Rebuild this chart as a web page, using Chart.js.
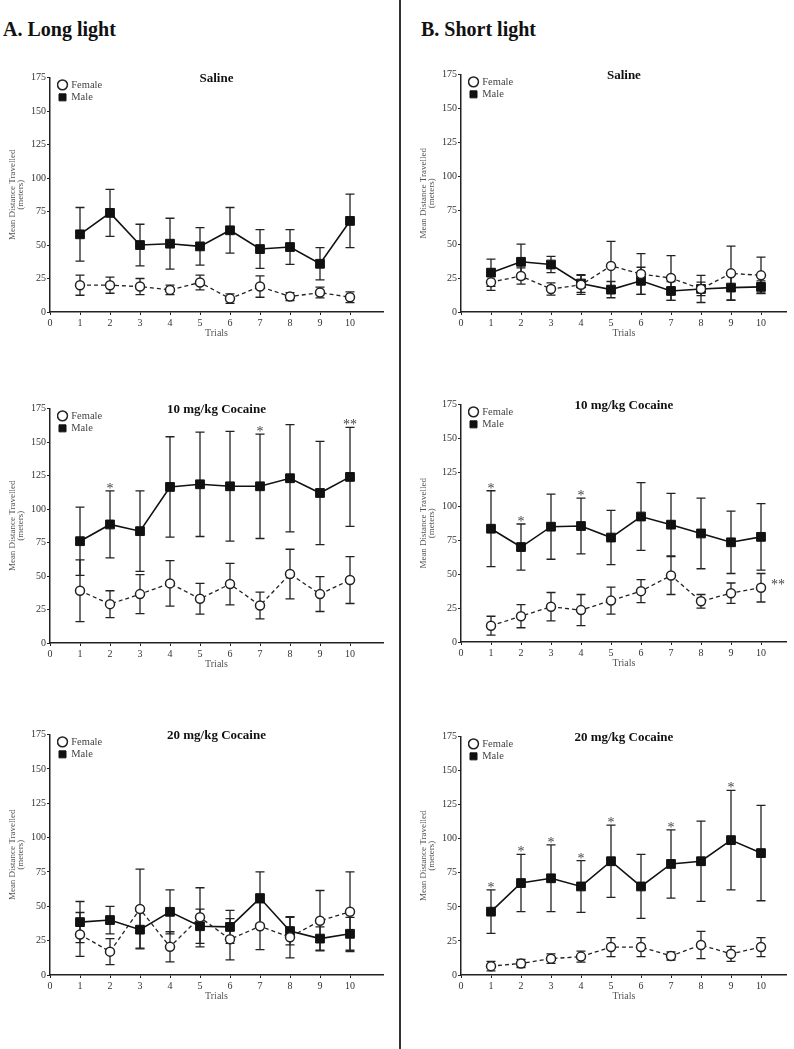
<!DOCTYPE html>
<html>
<head>
<meta charset="utf-8">
<script src="https://cdn.jsdelivr.net/npm/chart.js@4.4.1/dist/chart.umd.min.js"></script>
<style>
  body { margin: 0; background: #fff; }
  #page { position: relative; width: 794px; height: 1049px; overflow: hidden; font-family: "Liberation Serif", serif; }
  .head { position: absolute; top: 18px; font-weight: bold; font-size: 20px; color: #111; }
  #divider { position: absolute; left: 399px; top: 0; width: 1.5px; height: 1049px; background: #333; }
  .panel { position: absolute; }
</style>
</head>
<body>
<div id="page">
  <div class="head" style="left:3px">A. Long light</div>
  <div class="head" style="left:421px">B. Short light</div>
  <div id="divider"></div>
</div>
<script>
// x categories and axis ticks
const trials = [1, 2, 3, 4, 5, 6, 7, 8, 9, 10];
const xTicks = [0, 1, 2, 3, 4, 5, 6, 7, 8, 9, 10];
const yTicks = [0, 25, 50, 75, 100, 125, 150, 175];
const seriesNames = ["Female", "Male"];

// A. Long light
const longSalineFemale    = [20, 20, 19, 16.5, 22, 10, 19, 11.5, 14.5, 11];
const longSalineFemaleErr = [7.5, 6, 6, 3.5, 5.5, 3.5, 8, 3, 4, 4];
const longSalineMale      = [58, 74, 50, 51, 49, 61, 47, 48.5, 36, 68];
const longSalineMaleErr   = [20, 17.5, 15.5, 19, 14, 17, 14.5, 13, 12, 20];

const long10Female    = [39, 29, 36.5, 44.5, 33, 44, 28, 51.5, 36.5, 47];
const long10FemaleErr = [23, 10, 14.5, 17, 11.5, 15.5, 10, 18.5, 13, 17.5];
const long10Male      = [76, 88.5, 83.5, 116.5, 118.5, 117, 117, 123, 112, 124];
const long10MaleErr   = [25.5, 25, 30, 37.5, 39, 41, 39, 40, 38.5, 37];
const long10Stars     = ["", "*", "", "", "", "", "*", "", "", "**"];

const long20Female    = [29.5, 17, 48, 20.5, 42, 26, 35.5, 27.5, 39.5, 46];
const long20FemaleErr = [16, 9.5, 29, 11, 21.5, 15, 17, 15, 22, 29];
const long20Male      = [38.5, 40, 33, 46, 35.5, 35, 56, 32, 26.5, 30];
const long20MaleErr   = [15, 10, 13.5, 16, 12.5, 12, 19, 10, 8.5, 12];

// B. Short light
const shortSalineFemale    = [22, 26.5, 17, 20, 34, 28, 25, 17, 28.5, 27];
const shortSalineFemaleErr = [6, 6, 4.5, 7, 18, 15, 16.5, 5, 20, 13.5];
const shortSalineMale      = [29, 37, 35, 21, 16.5, 23, 15.5, 17, 18, 18.5];
const shortSalineMaleErr   = [10, 13, 6, 6.5, 6, 10, 7, 10, 9, 4.5];

const short10Female    = [12, 19, 26, 23.5, 30.5, 37.5, 49, 30, 36, 40];
const short10FemaleErr = [7, 8.5, 10.5, 11.5, 10, 8.5, 14, 5, 7.5, 10.5];
const short10Male      = [83.5, 70, 85, 85.5, 77, 92.5, 86.5, 80, 73.5, 77.5];
const short10MaleErr   = [28, 17, 24, 20.5, 20, 25, 23, 26, 23, 24.5];
const short10Stars       = ["*", "*", "", "*", "", "", "", "", "", ""];
const short10FemaleStars = ["", "", "", "", "", "", "", "", "", "**"];

const short20Female    = [6.5, 8.5, 12, 13.5, 20.5, 20.5, 14, 22, 15.5, 20.5];
const short20FemaleErr = [3.5, 3, 3.5, 4, 7, 7, 3, 10, 5.5, 7];
const short20Male      = [46.5, 67.5, 71, 65, 83.5, 65, 81.5, 83.5, 99, 89.5];
const short20MaleErr   = [16, 21, 24.5, 19, 26.5, 23.5, 25, 29.5, 36.5, 35];
const short20Stars     = ["*", "*", "*", "*", "*", "", "*", "", "*", ""];

Chart.defaults.font.family = "'Liberation Serif', serif";

// error bars drawn through the chart's own scales
const errorBars = {
  id: "errorBars",
  beforeDatasetsDraw(chart) {
    const { ctx, scales: { x, y } } = chart;
    ctx.save();
    ctx.strokeStyle = "#222";
    ctx.lineWidth = 1.3;
    chart.data.datasets.forEach(ds => {
      ds.data.forEach((pt, i) => {
        const px = x.getPixelForValue(pt.x);
        const top = y.getPixelForValue(pt.y + ds.err[i]);
        const bot = y.getPixelForValue(pt.y - ds.err[i]);
        ctx.beginPath();
        ctx.moveTo(px, top); ctx.lineTo(px, bot);
        ctx.moveTo(px - 4.5, top); ctx.lineTo(px + 4.5, top);
        ctx.moveTo(px - 4.5, bot); ctx.lineTo(px + 4.5, bot);
        ctx.stroke();
      });
    });
    ctx.restore();
  }
};

// significance asterisks
const starMarks = {
  id: "starMarks",
  afterDatasetsDraw(chart) {
    const { ctx, scales: { x, y } } = chart;
    ctx.save();
    ctx.fillStyle = "#444";
    ctx.font = "14px 'Liberation Serif', serif";
    ctx.textBaseline = "alphabetic";
    chart.data.datasets.forEach(ds => {
      if (!ds.stars) return;
      ds.data.forEach((pt, i) => {
        const s = ds.stars[i];
        if (!s) return;
        const px = x.getPixelForValue(pt.x);
        if (ds.starSide === "right") {
          ctx.textAlign = "left";
          ctx.fillText(s, px + 10, y.getPixelForValue(pt.y) + 1);
        } else {
          ctx.textAlign = "center";
          ctx.fillText(s, px, y.getPixelForValue(pt.y + ds.err[i]) + 2);
        }
      });
    });
    ctx.restore();
  }
};

// keep the legend inside the plot, top-left corner
const legendInPlot = {
  id: "legendInPlot",
  afterLayout(chart) {
    const lg = chart.legend;
    if (!lg) return;
    const h = lg.height;
    lg.top = chart.chartArea.top;
    lg.bottom = lg.top + h;
    lg.left = chart.chartArea.left + 7;
  }
};

const panels = [
  { title: "Saline", f: longSalineFemale, fe: longSalineFemaleErr, m: longSalineMale, me: longSalineMaleErr,
    left: 0, top: 50, w: 398, h: 300, axisW: 50, padR: 15, xMax: 11.1, titleX: 9.5 },
  { title: "10 mg/kg Cocaine", f: long10Female, fe: long10FemaleErr, m: long10Male, me: long10MaleErr, ms: long10Stars,
    left: 0, top: 381, w: 398, h: 300, axisW: 50, padR: 15, xMax: 11.1, titleX: 9.5 },
  { title: "20 mg/kg Cocaine", f: long20Female, fe: long20FemaleErr, m: long20Male, me: long20MaleErr,
    left: 0, top: 707, w: 398, h: 306, axisW: 50, padR: 15, xMax: 11.1, titleX: 9.5 },
  { title: "Saline", f: shortSalineFemale, fe: shortSalineFemaleErr, m: shortSalineMale, me: shortSalineMaleErr,
    left: 402, top: 47, w: 392, h: 303, axisW: 59, padR: 4, xMax: 10.86, titleX: 18.5 },
  { title: "10 mg/kg Cocaine", f: short10Female, fe: short10FemaleErr, m: short10Male, me: short10MaleErr,
    ms: short10Stars, fs: short10FemaleStars,
    left: 402, top: 377, w: 392, h: 303, axisW: 59, padR: 4, xMax: 10.86, titleX: 18.5 },
  { title: "20 mg/kg Cocaine", f: short20Female, fe: short20FemaleErr, m: short20Male, me: short20MaleErr, ms: short20Stars,
    left: 402, top: 709, w: 392, h: 304, axisW: 59, padR: 4, xMax: 10.86, titleX: 18.5 }
];

const tickFont = { family: "'Liberation Serif', serif", size: 10 };
const axisTitleFont = { family: "'Liberation Serif', serif", size: 9, lineHeight: 0.8 };

panels.forEach(p => {
  const box = document.createElement("div");
  box.className = "panel";
  box.style.left = p.left + "px";
  box.style.top = p.top + "px";
  const canvas = document.createElement("canvas");
  canvas.width = p.w;
  canvas.height = p.h;
  box.appendChild(canvas);
  document.getElementById("page").appendChild(box);

  new Chart(canvas, {
    type: "line",
    data: {
      datasets: [
        {
          label: seriesNames[0],
          data: trials.map((t, i) => ({ x: t, y: p.f[i] })),
          err: p.fe, stars: p.fs, starSide: "right",
          borderColor: "#222", borderWidth: 1.3, borderDash: [4, 3],
          pointStyle: "circle", pointRadius: 4.5,
          pointBackgroundColor: "#fff", pointBorderColor: "#222", pointBorderWidth: 1.5
        },
        {
          label: seriesNames[1],
          data: trials.map((t, i) => ({ x: t, y: p.m[i] })),
          err: p.me, stars: p.ms, starSide: "top",
          borderColor: "#111", borderWidth: 1.6,
          pointStyle: "rect", pointRadius: 6.2,
          pointBackgroundColor: "#111", pointBorderColor: "#111", pointBorderWidth: 1
        }
      ]
    },
    options: {
      responsive: false,
      animation: false,
      layout: { padding: { left: 0, right: p.padR, top: 0, bottom: 0 } },
      scales: {
        x: {
          type: "linear", min: 0, max: p.xMax,
          afterBuildTicks: s => { s.ticks = xTicks.map(v => ({ value: v })); },
          afterFit: s => { s.height = 38; },
          grid: { drawOnChartArea: false, drawTicks: true, tickLength: 3, color: "#222", lineWidth: 1 },
          border: { color: "#222", width: 1.5 },
          ticks: { color: "#333", font: tickFont, padding: 2, maxRotation: 0 },
          title: { display: true, text: "Trials", color: "#555", font: { family: "'Liberation Serif', serif", size: 10 }, padding: { top: 0, bottom: 11 } }
        },
        y: {
          min: 0, max: 175,
          afterBuildTicks: s => { s.ticks = yTicks.map(v => ({ value: v })); },
          afterFit: s => { s.width = p.axisW; },
          grid: { drawOnChartArea: false, drawTicks: true, tickLength: 3, color: "#222", lineWidth: 1 },
          border: { color: "#222", width: 1.5 },
          ticks: { color: "#333", font: tickFont, padding: 1 },
          title: { display: true, text: ["Mean Distance Travelled", "(meters)"], color: "#555", font: axisTitleFont, padding: { top: p.titleX, bottom: 0 } }
        }
      },
      plugins: {
        legend: {
          position: "chartArea", align: "start",
          labels: { usePointStyle: true, boxWidth: 7, boxHeight: 7, padding: 2, color: "#444", font: { family: "'Liberation Serif', serif", size: 10.5 } }
        },
        title: {
          display: true, text: p.title, fullSize: false, color: "#111",
          font: { family: "'Liberation Serif', serif", size: 13, weight: "bold" },
          padding: { top: 21, bottom: -9 }
        },
        tooltip: { enabled: false }
      }
    },
    plugins: [errorBars, starMarks, legendInPlot]
  });
});
</script>
</body>
</html>
